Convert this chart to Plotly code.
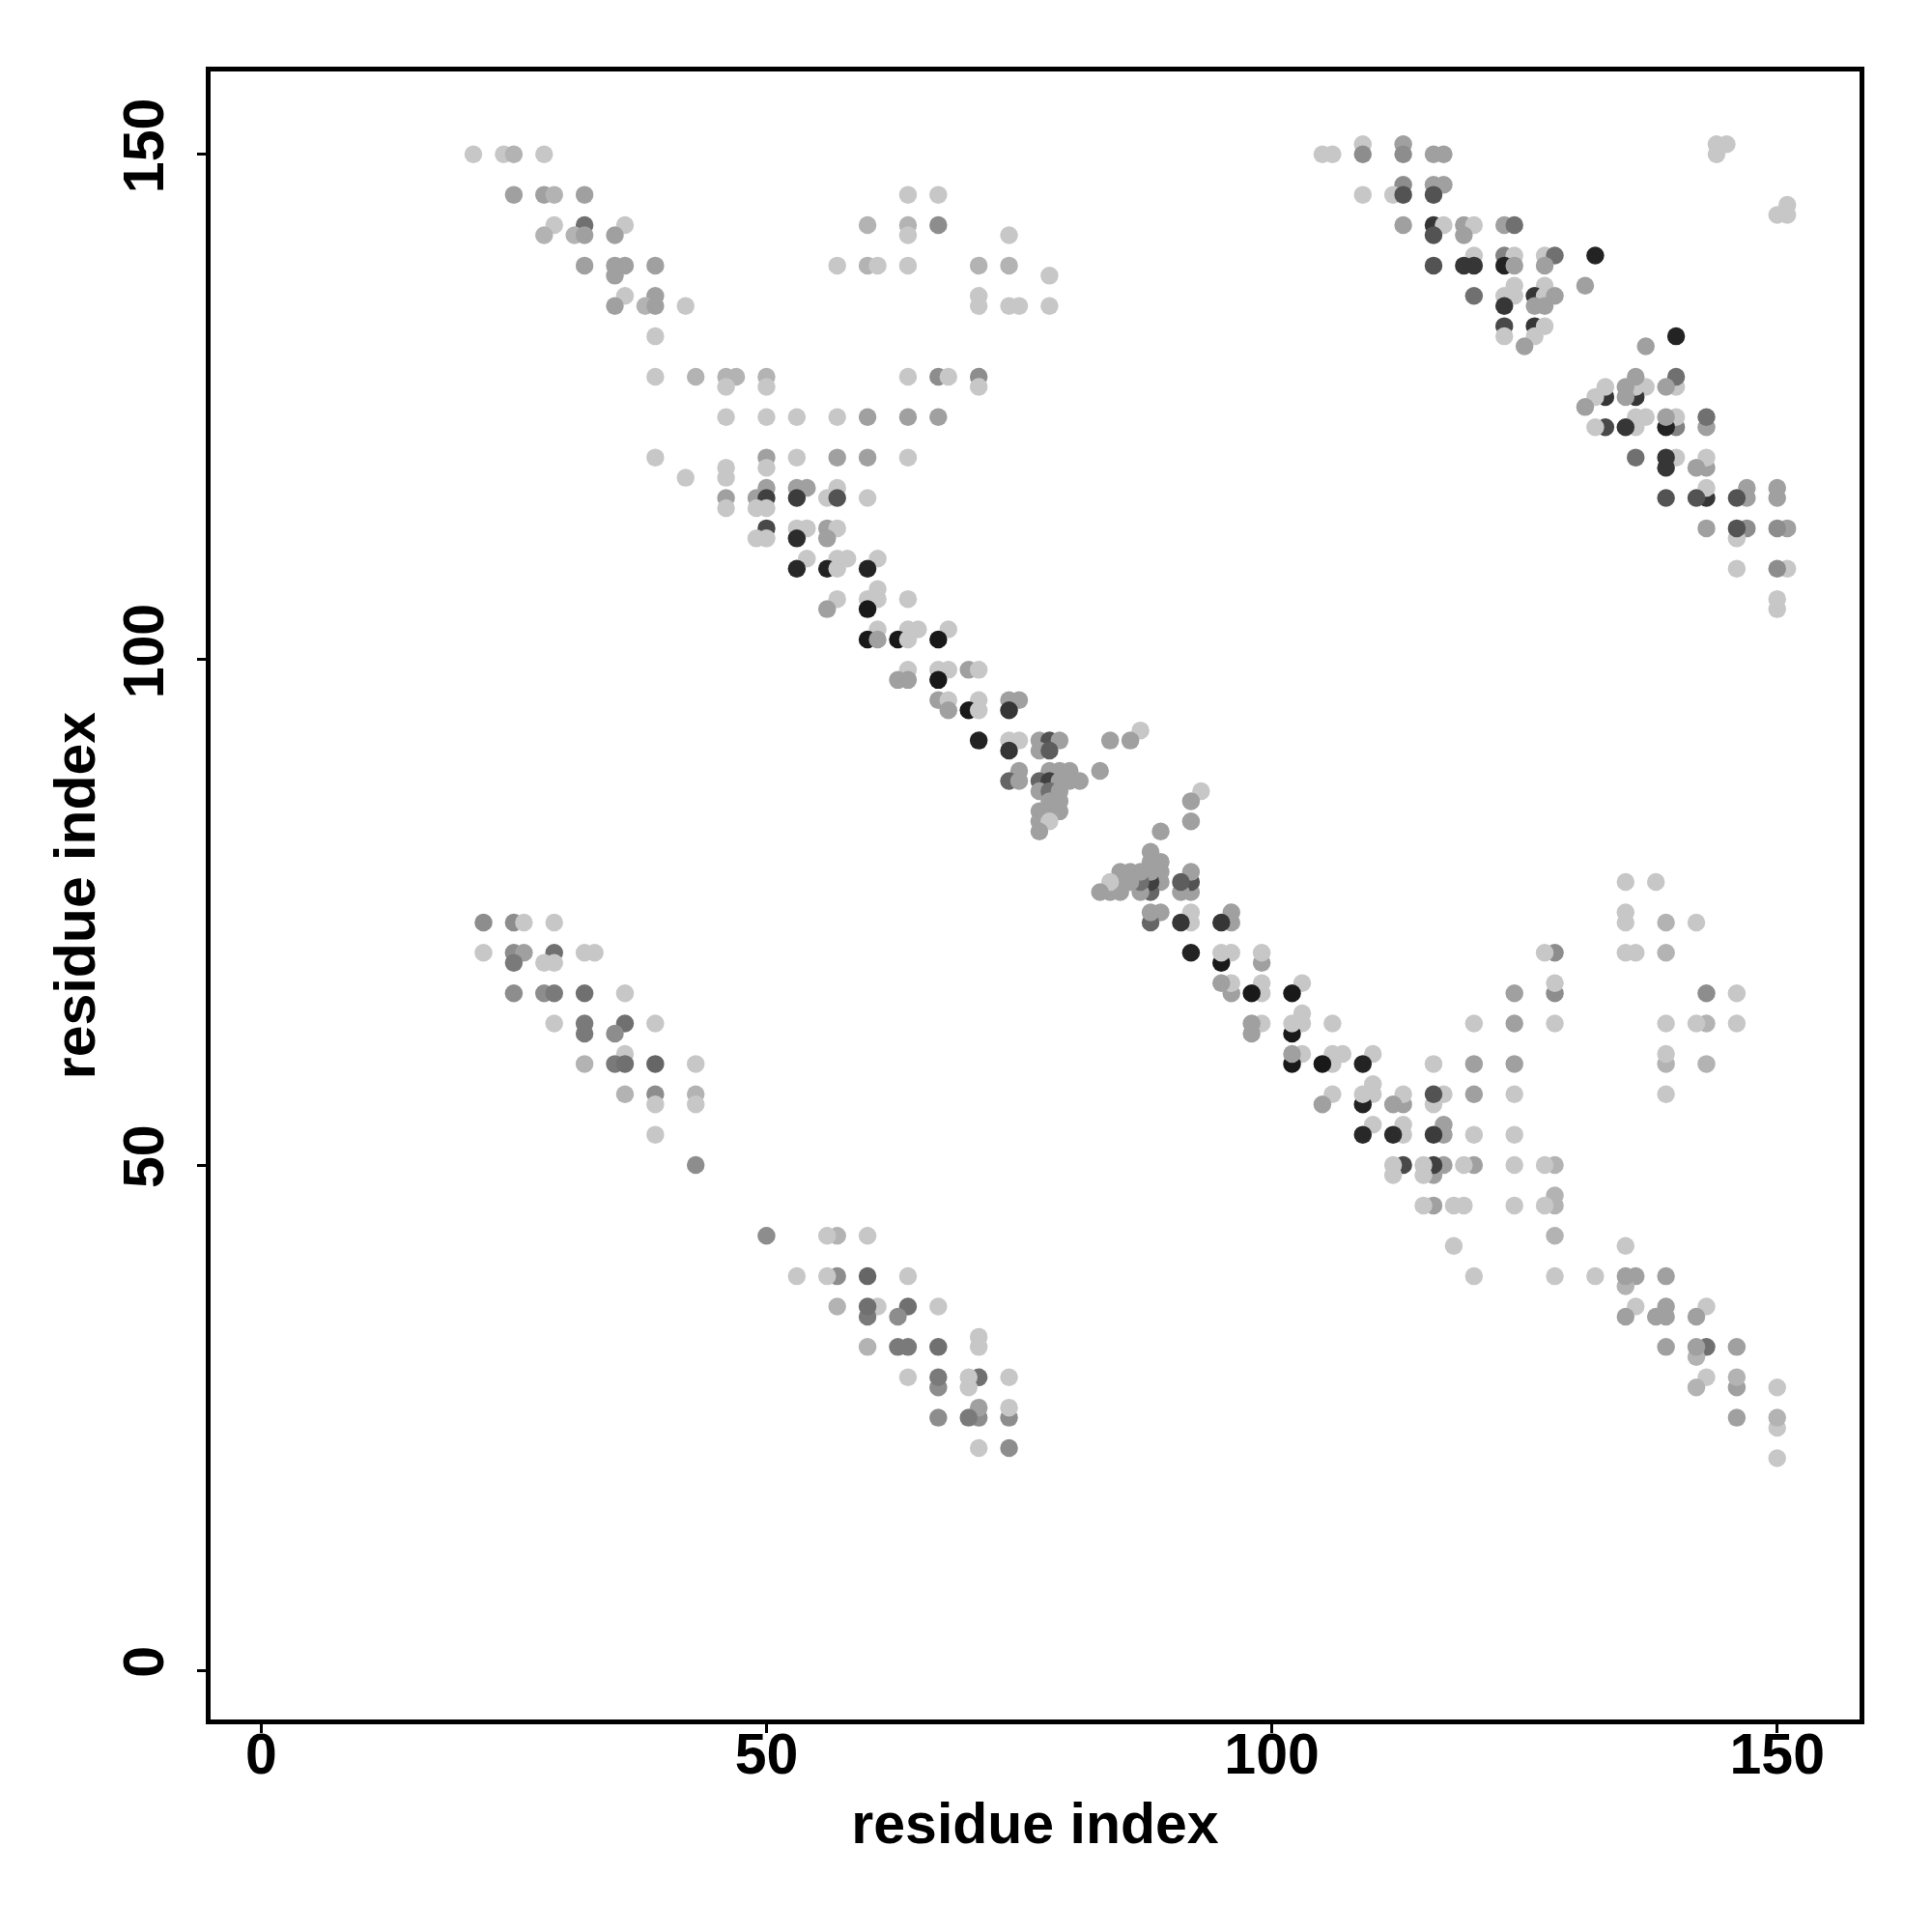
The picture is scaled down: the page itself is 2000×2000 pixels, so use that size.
import plotly.graph_objects as go

# score: contact strength, 0 = faint (light grey) ... 1 = strong (black)

# upper-left band
band1_i = [21, 24, 25, 28, 25, 28, 29, 32, 29, 32, 36, 28, 31, 32, 35, 32, 35, 36, 39, 35, 36, 39, 35, 38, 39, 42, 39, 39, 43, 39]
band1_j = [150, 150, 150, 150, 146, 146, 146, 146, 143, 143, 143, 142, 142, 142, 142, 139, 139, 139, 139, 138, 136, 136, 135, 135, 135, 135, 132, 128, 128, 120]
band1_s = [.1, .1, .2, .1, .3, .3, .2, .3, .1, .55, .1, .2, .2, .3, .3, .3, .3, .3, .3, .3, .1, .3, .3, .2, .3, .1, .1, .1, .2, .1]

# upper-middle cluster
clus1_i = [64, 67, 60, 64, 67, 64, 74, 57, 60, 61, 64, 71, 74, 78, 71, 71, 74, 75, 78, 46, 47, 50, 64, 67, 68, 71, 46, 50, 71]
clus1_j = [146, 146, 143, 143, 143, 142, 142, 139, 139, 139, 139, 139, 139, 138, 136, 135, 135, 135, 135, 128, 128, 128, 128, 128, 128, 128, 127, 127, 127]
clus1_s = [.1, .1, .2, .2, .4, .1, .1, .1, .2, .1, .1, .2, .2, .1, .1, .1, .1, .1, .1, .2, .2, .2, .1, .4, .1, .4, .1, .1, .1]

# main anti-diagonal band
band2_i = [46, 50, 53, 57, 60, 64, 67,
           50, 53, 57, 60, 64,
           46, 50,
           42, 46,
           50, 53, 54, 57,
           46, 49, 50, 53, 56, 57, 60,
           46, 49, 50,
           50, 53, 54, 56, 57,
           49, 50, 53, 56,
           54, 57, 58, 61,
           53, 56, 57, 60,
           61,
           57, 60, 61, 64,
           56, 60,
           61, 64, 65, 68,
           60, 61, 63, 64, 67,
           64, 67, 68, 70, 71,
           63, 64, 67,
           67, 68, 71, 74, 75,
           68, 70, 71, 74,
           87,
           71, 74, 75, 77, 78, 79, 84, 86,
           74, 77, 78,
           75, 78, 79, 80, 83,
           74, 75, 77, 78, 79, 80, 81,
           77, 78, 79,
           78, 79,
           77, 78, 79,
           77, 78,
           77]
band2_j = [124, 124, 124, 124, 124, 124, 124,
           120, 120, 120, 120, 120,
           119, 119,
           118, 118,
           117, 117, 117, 117,
           116, 116, 116, 116, 116, 116, 116,
           115, 115, 115,
           113, 113, 113, 113, 113,
           112, 112, 112, 112,
           110, 110, 110, 110,
           109, 109, 109, 109,
           107,
           106, 106, 106, 106,
           105, 105,
           103, 103, 103, 103,
           102, 102, 102, 102, 102,
           99, 99, 99, 99, 99,
           98, 98, 98,
           96, 96, 96, 96, 96,
           95, 95, 95, 95,
           93,
           92, 92, 92, 92, 92, 92, 92, 92,
           91, 91, 91,
           89, 89, 89, 89, 89,
           88, 88, 88, 88, 88, 88, 88,
           87, 87, 87,
           86, 86,
           85, 85, 85,
           84, 84,
           83]
band2_s = [.1, .1, .1, .1, .3, .3, .3,
           .3, .1, .3, .3, .1,
           .1, .1,
           .1, .1,
           .3, .3, .3, .1,
           .3, .3, .8, .82, .1, .7, .1,
           .1, .1, .1,
           .75, .1, .1, .3, .1,
           .1, .1, .9, .3,
           .1, .1, .1, .1,
           .92, .95, .1, .95,
           .1,
           .1, .1, .1, .1,
           .3, 1.0,
           .1, .1, .1, .1,
           1.0, .3, 1.0, .1, 1.0,
           .1, .1, .1, .3, .1,
           .3, .3, 1.0,
           .3, .1, .1, .3, .3,
           .3, 1.0, .1, .85,
           .1,
           .95, .1, .1, .3, .7, .3, .3, .3,
           .85, .3, .65,
           .3, .3, .3, .3, .3,
           .6, .3, .6, .8, .3, .3, .3,
           .3, .55, .3,
           .3, .3,
           .3, .3, .3,
           .3, .1,
           .3]

# lower-left cluster
clus2_i = [22, 25, 26, 29, 22, 25, 26, 29, 32, 33, 25, 28, 29, 25, 28, 29, 32, 36, 29, 32, 36, 39, 32, 35, 36, 32, 35, 36, 39, 43, 36, 39, 43, 39, 43, 39, 43]
clus2_j = [74, 74, 74, 74, 71, 71, 71, 71, 71, 71, 70, 70, 70, 67, 67, 67, 67, 67, 64, 64, 64, 64, 63, 63, 61, 60, 60, 60, 60, 60, 57, 57, 57, 56, 56, 53, 50]
clus2_s = [.4, .4, .1, .1, .1, .4, .3, .55, .1, .1, .5, .1, .1, .4, .4, .5, .55, .1, .1, .5, .55, .1, .5, .4, .1, .2, .5, .55, .6, .1, .2, .4, .2, .1, .1, .1, .4]

# upper-right cluster
clus3_i = [109, 113, 144, 145,
           105, 106, 109, 113, 116, 117, 144,
           113, 116, 117,
           109, 112, 113, 116,
           113, 116, 117, 119, 120, 123, 124,
           116, 119,
           120, 123, 124, 127, 128, 132,
           116, 119, 120, 123, 124, 127,
           124, 127, 131,
           120, 123, 124, 126, 127, 128,
           123, 126, 127,
           123, 126, 127,
           123, 126,
           125]
clus3_j = [151, 151, 151, 151,
           150, 150, 150, 150, 150, 150, 150,
           147, 147, 147,
           146, 146, 146, 146,
           143, 143, 143, 143, 143, 143, 143,
           142, 142,
           140, 140, 140, 140, 140, 140,
           139, 139, 139, 139, 139, 139,
           137, 137, 137,
           136, 136, 136, 136, 136, 136,
           135, 135, 135,
           133, 133, 133,
           132, 132,
           131]
clus3_s = [.1, .3, .1, .1,
           .1, .1, .4, .4, .3, .3, .1,
           .4, .3, .3,
           .1, .1, .7, .7,
           .3, .85, .1, .3, .1, .3, .55,
           .7, .3,
           .1, .45, .1, .1, .55, .95,
           .7, .85, .85, .95, .3, .3,
           .1, .1, .3,
           .55, .1, .1, .85, .1, .3,
           .85, .3, .3,
           .75, .85, .1,
           .1, .1,
           .3]

tick_vals = [0, 50, 100, 150]
axis_title = "residue index"

pair_i = band1_i + clus1_i + band2_i + clus2_i + clus3_i
pair_j = band1_j + clus1_j + band2_j + clus2_j + clus3_j
pair_s = band1_s + clus1_s + band2_s + clus2_s + clus3_s

# symmetric contact map: (i, j) and (j, i)
xs = pair_i + pair_j
ys = pair_j + pair_i
ss = pair_s + pair_s

fig = go.Figure(
    go.Scatter(
        x=xs, y=ys, mode="markers",
        marker=dict(size=18.5, color=ss, cmin=0, cmax=1,
                    colorscale=[[0, "rgb(218,218,218)"], [1, "rgb(25,25,25)"]],
                    line=dict(width=0), showscale=False),
        showlegend=False,
    )
)

font_main = dict(family="Liberation Sans, Arial, Helvetica, sans-serif", size=59, color="black", weight="bold")

axis_common = dict(
    tickvals=tick_vals, ticks="outside", ticklen=9, tickwidth=3, tickcolor="black",
    showline=True, linewidth=5, linecolor="black", mirror=True,
    showgrid=False, zeroline=False, tickfont=font_main,
)

fig.update_layout(
    width=2000, height=2000,
    margin=dict(l=210, r=83, t=66, b=228, autoexpand=False),
    plot_bgcolor="white", paper_bgcolor="white",
    xaxis=dict(range=[-5.0, 158.15], title=dict(text=axis_title, font=font_main, standoff=20),
               ticklabelstandoff=-29, **axis_common),
    yaxis=dict(range=[-4.86, 158.2], title=dict(text=axis_title, font=font_main, standoff=0),
               tickangle=-90, ticklabelstandoff=11, **axis_common),
)

fig.write_html("out.html")
